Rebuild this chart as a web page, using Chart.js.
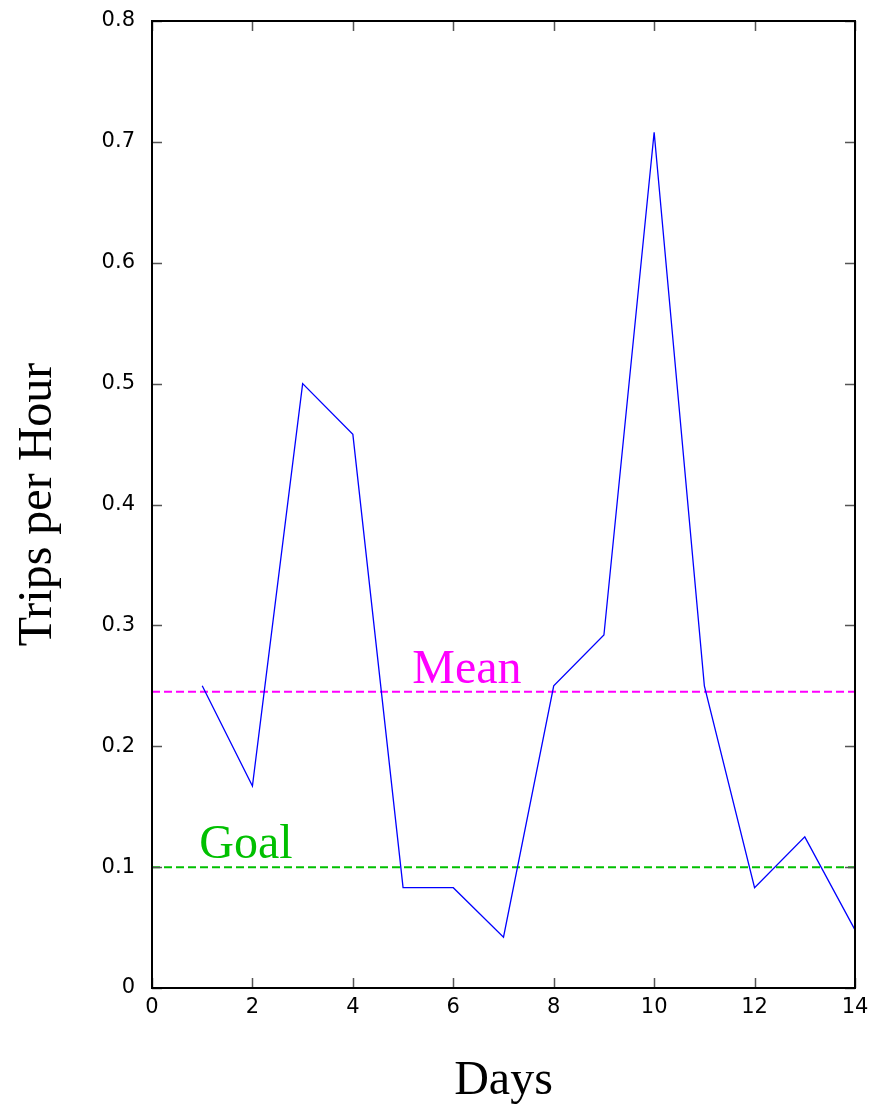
<!DOCTYPE html>
<html>
<head>
<meta charset="utf-8">
<title>Trips per Hour</title>
<script src="https://cdn.jsdelivr.net/npm/chart.js@4/dist/chart.umd.min.js"></script>
<style>
  html, body { margin: 0; padding: 0; background: #fff; }
  #wrap { width: 870px; height: 1107px; }
</style>
</head>
<body>
<div id="wrap"><canvas id="chartCanvas"></canvas></div>
<script>
// daily values
const days = [1, 2, 3, 4, 5, 6, 7, 8, 9, 10, 11, 12, 13, 14];
const trips = [0.25, 0.167, 0.5, 0.458, 0.083, 0.083, 0.042, 0.25, 0.292, 0.708, 0.25, 0.083, 0.125, 0.048];

// reference lines
const meanValue = 0.245;
const goalValue = 0.1;
const lineSpan = [0, 14];

// label positions along x for the reference lines
const meanLabelX = 6.27;
const goalLabelX = 1.87;

const serif = "'Liberation Serif', 'Times New Roman', serif";
const sans = "'DejaVu Sans', Arial, Helvetica, sans-serif";

// frame + inward ticks on all four sides, plus line captions
const framePlugin = {
    id: 'frame',
    afterDatasetsDraw(chart) {
        const ctx = chart.ctx;
        const a = chart.chartArea;
        const xs = chart.scales.x;
        const ys = chart.scales.y;
        const len = 10;

        ctx.save();
        ctx.strokeStyle = '#555';
        ctx.lineWidth = 1.5;
        ctx.beginPath();
        xs.ticks.forEach(t => {
            const px = Math.round(xs.getPixelForValue(t.value)) + 0.5;
            ctx.moveTo(px, a.bottom); ctx.lineTo(px, a.bottom - len);
            ctx.moveTo(px, a.top); ctx.lineTo(px, a.top + len);
        });
        ys.ticks.forEach(t => {
            const py = Math.round(ys.getPixelForValue(t.value)) + 0.5;
            ctx.moveTo(a.left, py); ctx.lineTo(a.left + len, py);
            ctx.moveTo(a.right, py); ctx.lineTo(a.right - len, py);
        });
        ctx.stroke();

        ctx.strokeStyle = '#000';
        ctx.lineWidth = 2;
        ctx.strokeRect(a.left, a.top, a.right - a.left, a.bottom - a.top);

        ctx.font = '48px ' + serif;
        ctx.textAlign = 'center';
        ctx.textBaseline = 'alphabetic';
        ctx.fillStyle = '#ff00ff';
        ctx.fillText('Mean', xs.getPixelForValue(meanLabelX), ys.getPixelForValue(meanValue) - 9);
        ctx.fillStyle = '#00c000';
        ctx.fillText('Goal', xs.getPixelForValue(goalLabelX), ys.getPixelForValue(goalValue) - 9);
        ctx.restore();
    }
};

// no automatic room for overhanging tick labels, the layout padding handles it
function noOverhang(scale) {
    scale.paddingTop = 0;
    scale.paddingBottom = 0;
    scale.paddingLeft = 0;
    scale.paddingRight = 0;
}

new Chart(document.getElementById('chartCanvas'), {
    type: 'line',
    data: {
        datasets: [
            {
                label: 'Trips',
                data: days.map((d, i) => ({ x: d, y: trips[i] })),
                borderColor: '#0000ff',
                borderWidth: 1.3,
                pointRadius: 0,
                tension: 0
            },
            {
                label: 'Mean',
                data: lineSpan.map(x => ({ x: x, y: meanValue })),
                borderColor: '#ff00ff',
                borderWidth: 2,
                borderDash: [8, 4],
                pointRadius: 0
            },
            {
                label: 'Goal',
                data: lineSpan.map(x => ({ x: x, y: goalValue })),
                borderColor: '#00c000',
                borderWidth: 2,
                borderDash: [8, 4],
                pointRadius: 0
            }
        ]
    },
    options: {
        responsive: true,
        maintainAspectRatio: false,
        animation: false,
        layout: { padding: { left: 0, right: 15, top: 21, bottom: 0 } },
        plugins: {
            legend: { display: false },
            tooltip: { enabled: false }
        },
        scales: {
            x: {
                type: 'linear',
                min: 0,
                max: 14,
                grid: { display: false, drawTicks: false },
                border: { display: false },
                ticks: {
                    stepSize: 2,
                    padding: 7,
                    color: '#000',
                    font: { family: sans, size: 21 }
                },
                title: {
                    display: true,
                    text: 'Days',
                    color: '#000',
                    font: { family: serif, size: 48 },
                    padding: { top: 0, bottom: -3 }
                },
                afterFit(scale) { scale.height = 119; noOverhang(scale); }
            },
            y: {
                min: 0,
                max: 0.8,
                grid: { display: false, drawTicks: false },
                border: { display: false },
                ticks: {
                    stepSize: 0.1,
                    padding: 17,
                    color: '#000',
                    font: { family: sans, size: 21 },
                    callback: v => (v === 0 ? '0' : v.toFixed(1))
                },
                title: {
                    display: true,
                    text: 'Trips per Hour',
                    color: '#000',
                    font: { family: serif, size: 48 },
                    padding: { top: 10, bottom: 0 }
                },
                afterFit(scale) { scale.width = 152; noOverhang(scale); }
            }
        }
    },
    plugins: [framePlugin]
});
</script>
</body>
</html>
